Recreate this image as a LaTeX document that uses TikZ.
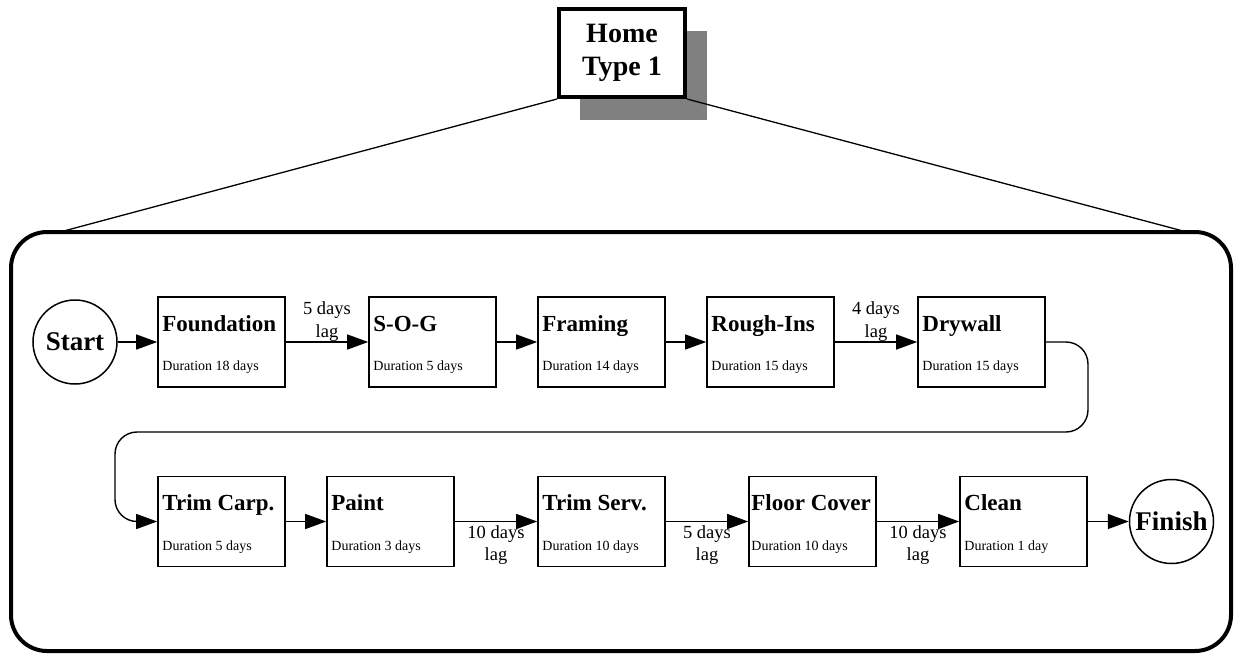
\documentclass[tikz,border=0pt]{standalone}
\usepackage{fontspec}
\setmainfont{Liberation Serif}
\usepackage{tikz}
\usetikzlibrary{arrows.meta}

\tikzset{
  taskbox/.style={draw, line width=1.6pt, minimum width=127pt, minimum height=90pt, inner sep=0pt},
  tasktitle/.style={anchor=base west, inner sep=0pt, font=\fontsize{23}{26}\selectfont\bfseries},
  taskdur/.style={anchor=base west, inner sep=0pt, font=\fontsize{14}{16}\selectfont},
  endpoint/.style={draw, circle, line width=1.5pt, minimum size=84pt, inner sep=0pt, font=\fontsize{27}{30}\selectfont\bfseries},
  flow/.style={line width=1.4pt, -{Triangle[length=21pt,width=15pt]}},
  lagtext/.style={inner sep=0pt, align=center, font=\fontsize{18.5}{22.5}\selectfont},
}

\begin{document}
\begin{tikzpicture}[x=1pt,y=-1pt]
\useasboundingbox (0,0) rectangle (1235,657);
\draw[line width=4pt, rounded corners=36pt] (11,232) rectangle (1231,651);
\fill[black!50] (580,31) rectangle (707,120);
\node[draw, fill=white, line width=4pt, minimum width=126pt, minimum height=88pt, inner sep=0pt, align=center, font=\fontsize{28}{33}\selectfont\bfseries] (home) at (622,53) {Home\\Type 1};
\coordinate (fl) at (60,232);
\coordinate (fr) at (1183,231);
\draw[line width=1.3pt] (home.south west) -- (fl);
\draw[line width=1.3pt] (home.south east) -- (fr);

\node[endpoint] (start) at (75,342) {Start};
\node[taskbox] (found) at (221.5,342) {};
\node[tasktitle] (found-t) at ([shift={(5,35)}]found.north west) {Foundation};
\node[taskdur] (found-d) at ([shift={(5,-17)}]found.south west) {Duration 18 days};
\node[taskbox] (sog) at (432.5,342) {};
\node[tasktitle] (sog-t) at ([shift={(5,35)}]sog.north west) {S-O-G};
\node[taskdur] (sog-d) at ([shift={(5,-17)}]sog.south west) {Duration 5 days};
\node[taskbox] (fram) at (601.5,342) {};
\node[tasktitle] (fram-t) at ([shift={(5,35)}]fram.north west) {Framing};
\node[taskdur] (fram-d) at ([shift={(5,-17)}]fram.south west) {Duration 14 days};
\node[taskbox] (rough) at (770.5,342) {};
\node[tasktitle] (rough-t) at ([shift={(5,35)}]rough.north west) {Rough-Ins};
\node[taskdur] (rough-d) at ([shift={(5,-17)}]rough.south west) {Duration 15 days};
\node[taskbox] (dry) at (981.5,342) {};
\node[tasktitle] (dry-t) at ([shift={(5,35)}]dry.north west) {Drywall};
\node[taskdur] (dry-d) at ([shift={(5,-17)}]dry.south west) {Duration 15 days};

\node[taskbox] (trimc) at (221.5,521.5) {};
\node[tasktitle] (trimc-t) at ([shift={(5,35)}]trimc.north west) {Trim Carp.};
\node[taskdur] (trimc-d) at ([shift={(5,-17)}]trimc.south west) {Duration 5 days};
\node[taskbox] (paint) at (390.5,521.5) {};
\node[tasktitle] (paint-t) at ([shift={(5,35)}]paint.north west) {Paint};
\node[taskdur] (paint-d) at ([shift={(5,-17)}]paint.south west) {Duration 3 days};
\node[taskbox] (trims) at (601.5,521.5) {};
\node[tasktitle] (trims-t) at ([shift={(5,35)}]trims.north west) {Trim Serv.};
\node[taskdur] (trims-d) at ([shift={(5,-17)}]trims.south west) {Duration 10 days};
\node[taskbox] (floor) at (812.5,521.5) {};
\node[tasktitle] (floor-t) at ([shift={(3,35)}]floor.north west) {Floor Cover};
\node[taskdur] (floor-d) at ([shift={(3,-17)}]floor.south west) {Duration 10 days};
\node[taskbox] (clean) at (1023.5,521.5) {};
\node[tasktitle] (clean-t) at ([shift={(5,35)}]clean.north west) {Clean};
\node[taskdur] (clean-d) at ([shift={(5,-17)}]clean.south west) {Duration 1 day};
\node[endpoint] (finish) at (1171.5,521.5) {Finish};

\draw[flow] (start) -- (found);
\draw[flow] (found) -- node[lagtext, above] (lag1) {5 days\\lag} (sog);
\draw[flow] (sog) -- (fram);
\draw[flow] (fram) -- (rough);
\draw[flow] (rough) -- node[lagtext, above] (lag2) {4 days\\lag} (dry);
\coordinate (bendr) at (1088,432);
\coordinate (bendl) at (115,432);
\draw[flow, rounded corners=22pt] (dry.east) -| (bendr) -- (bendl) |- (trimc.west);
\draw[flow] (trimc) -- (paint);
\draw[flow] (paint) -- node[lagtext, below=3pt] (lag3) {10 days\\lag} (trims);
\draw[flow] (trims) -- node[lagtext, below=3pt] (lag4) {5 days\\lag} (floor);
\draw[flow] (floor) -- node[lagtext, below=3pt] (lag5) {10 days\\lag} (clean);
\draw[flow] (clean) -- (finish);
\end{tikzpicture}
\end{document}
